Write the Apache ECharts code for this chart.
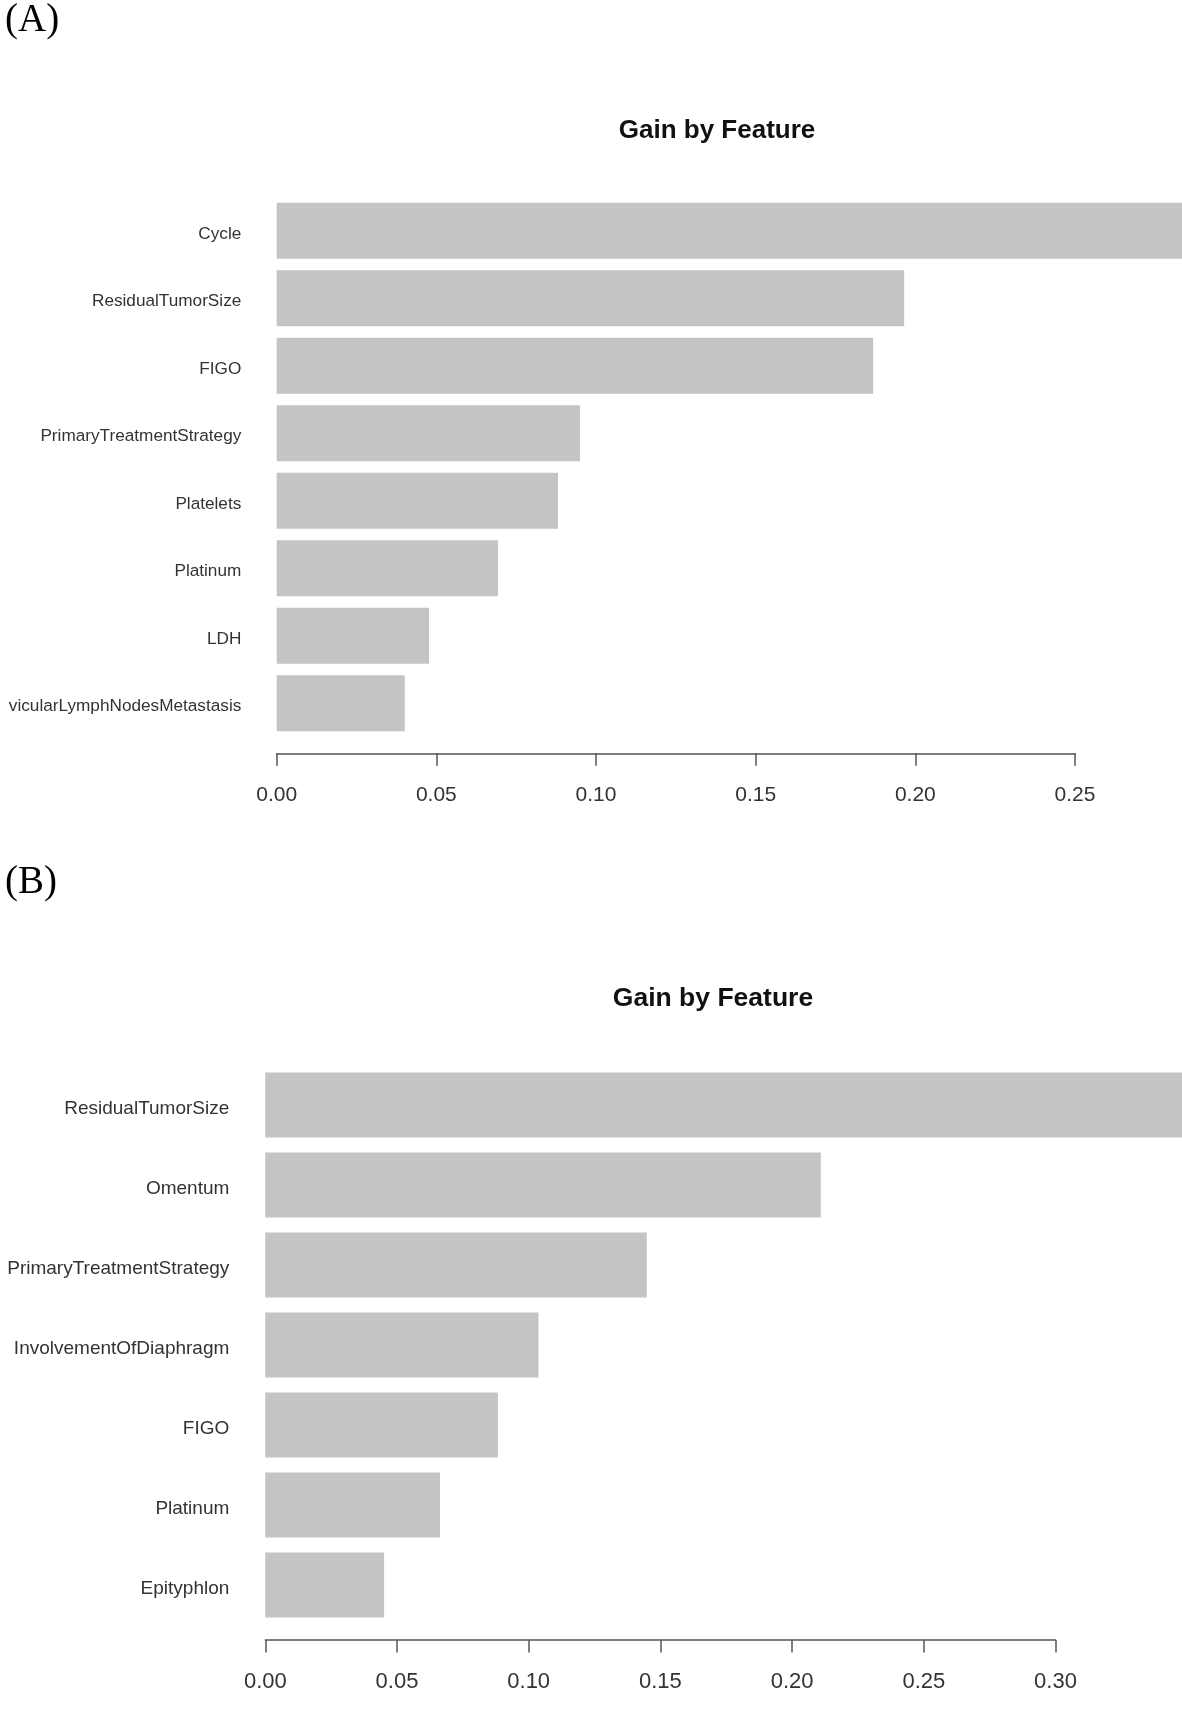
<!DOCTYPE html>
<html>
<head>
<meta charset="utf-8">
<script src="https://cdn.jsdelivr.net/npm/echarts@6/dist/echarts.min.js"></script>
<style>
html,body{margin:0;padding:0;background:#fff;}
#chart{width:1182px;height:1711px;}
</style>
</head>
<body>
<div id="chart"></div>
<script>
// Panel A data (top to bottom)
var featuresA = ['Cycle', 'ResidualTumorSize', 'FIGO', 'PrimaryTreatmentStrategy', 'Platelets', 'Platinum', 'LDH', 'vicularLymphNodesMetastasis'];
var gainA = [0.285, 0.1965, 0.1868, 0.0950, 0.0881, 0.0693, 0.0477, 0.0401];
var ticksA = [0.00, 0.05, 0.10, 0.15, 0.20, 0.25];

// Panel B data (top to bottom)
var featuresB = ['ResidualTumorSize', 'Omentum', 'PrimaryTreatmentStrategy', 'InvolvementOfDiaphragm', 'FIGO', 'Platinum', 'Epityphlon'];
var gainB = [0.350, 0.2109, 0.1448, 0.1037, 0.0883, 0.0663, 0.0451];
var ticksB = [0.00, 0.05, 0.10, 0.15, 0.20, 0.25, 0.30];

var titleText = 'Gain by Feature';
var panelLabels = ['(A)', '(B)'];

var barColor = '#c4c4c4';
var axisColor = '#555555';
var labelColor = '#333333';
var sans = '"Liberation Sans", Arial, sans-serif';
var serif = '"Liberation Serif", "Times New Roman", serif';

function xAxisCfg(gridIndex, ticks, offset, fontSize, margin) {
  return {
    type: 'value',
    gridIndex: gridIndex,
    min: ticks[0],
    max: ticks[ticks.length - 1],
    interval: 0.05,
    offset: offset,
    splitLine: {show: false},
    axisLine: {show: true, lineStyle: {color: axisColor, width: 1.5}},
    axisTick: {show: true, length: 12.5, lineStyle: {color: axisColor, width: 1.5}},
    axisLabel: {
      color: labelColor, fontFamily: sans, fontSize: fontSize, margin: margin,
      formatter: function (v) { return v.toFixed(2); }
    }
  };
}
function yAxisCfg(gridIndex, cats, fontSize, margin) {
  return {
    type: 'category',
    gridIndex: gridIndex,
    data: cats,
    inverse: true,
    axisLine: {show: false},
    axisTick: {show: false},
    splitLine: {show: false},
    axisLabel: {color: labelColor, fontFamily: sans, fontSize: fontSize, margin: margin,
                verticalAlign: 'top', lineHeight: 6.6}
  };
}

var chart = echarts.init(document.getElementById('chart'), null, {renderer: 'canvas'});
chart.setOption({
  backgroundColor: '#ffffff',
  animation: false,
  grid: [
    {left: 276.7, top: 196.9, width: 798.3, height: 540},
    {left: 265.3, top: 1065, width: 790.2, height: 560}
  ],
  xAxis: [
    xAxisCfg(0, ticksA, 16.4, 21, 31),
    xAxisCfg(1, ticksB, 15, 22, 31)
  ],
  yAxis: [
    yAxisCfg(0, featuresA, 17.2, 35.4),
    yAxisCfg(1, featuresB, 19, 36)
  ],
  series: [
    {type: 'bar', xAxisIndex: 0, yAxisIndex: 0, data: gainA, barWidth: 56, clip: false,
     itemStyle: {color: barColor}, silent: true},
    {type: 'bar', xAxisIndex: 1, yAxisIndex: 1, data: gainB, barWidth: 65, clip: false,
     itemStyle: {color: barColor}, silent: true}
  ],
  graphic: [
    {type: 'text', x: 717, y: 130.5, silent: true,
     style: {text: titleText, font: 'bold 26px ' + sans, fill: '#111', align: 'center', verticalAlign: 'middle', textAlign: 'center', textVerticalAlign: 'middle'}},
    {type: 'text', x: 713, y: 998.5, silent: true,
     style: {text: titleText, font: 'bold 26.5px ' + sans, fill: '#111', align: 'center', verticalAlign: 'middle', textAlign: 'center', textVerticalAlign: 'middle'}},
    {type: 'text', x: 5, y: 21, silent: true,
     style: {text: panelLabels[0], font: '39px ' + serif, fill: '#000', align: 'left', verticalAlign: 'middle', textAlign: 'left', textVerticalAlign: 'middle'}},
    {type: 'text', x: 5, y: 883, silent: true,
     style: {text: panelLabels[1], font: '39px ' + serif, fill: '#000', align: 'left', verticalAlign: 'middle', textAlign: 'left', textVerticalAlign: 'middle'}}
  ]
});
</script>
</body>
</html>
